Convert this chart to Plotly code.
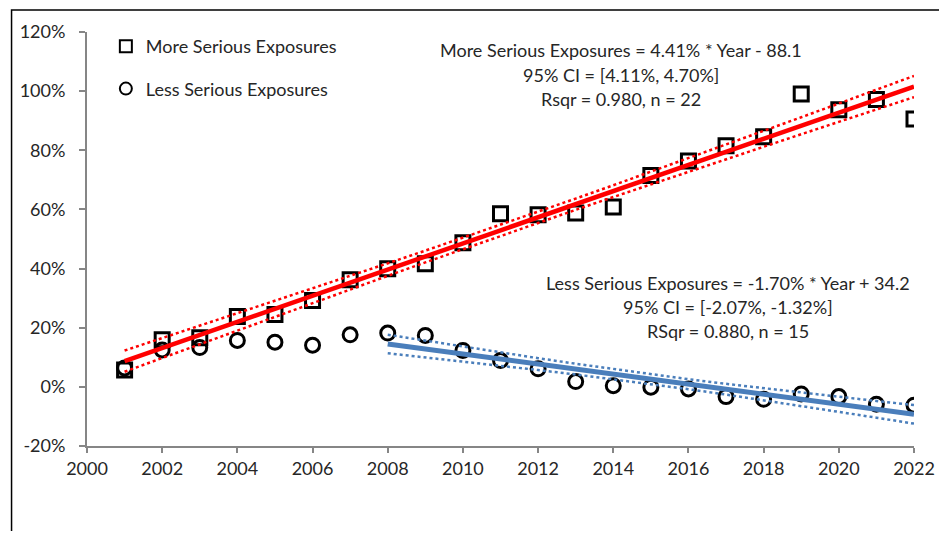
import numpy as np
import plotly.graph_objects as go

years = list(range(2001, 2023))
more_serious = [5.7, 15.9, 16.6, 23.8, 24.5, 29.2, 36.2, 39.9, 41.6, 48.7, 58.5,
                58.2, 58.8, 60.8, 71.5, 76.4, 81.5, 84.6, 99.0, 93.7, 97.2, 90.6]
less_serious = [6.4, 12.5, 13.3, 15.7, 15.1, 14.1, 17.6, 18.2, 17.4, 12.3, 8.9,
                6.1, 1.8, 0.4, -0.1, -0.7, -3.3, -4.2, -2.4, -3.3, -5.9, -6.2]
less_fit_start = 2008
t_more = 2.086   # t(0.975, df=20)
t_less = 2.160   # t(0.975, df=13)

y_tick_vals = [-0.2, 0.0, 0.2, 0.4, 0.6, 0.8, 1.0, 1.2]
y_tick_text = ["-20%", "0%", "20%", "40%", "60%", "80%", "100%", "120%"]

more_text = ["More Serious Exposures = 4.41% * Year - 88.1",
             "95% CI = [4.11%, 4.70%]",
             "Rsqr = 0.980, n = 22"]
less_text = ["Less Serious Exposures = -1.70% * Year + 34.2",
             "95% CI = [-2.07%, -1.32%]",
             "RSqr = 0.880, n = 15"]


def fit_band(x, y, t):
    x = np.asarray(x, float)
    y = np.asarray(y, float) / 100.0
    b, a = np.polyfit(x, y, 1)
    yhat = a + b * x
    n = len(x)
    s = np.sqrt(np.sum((y - yhat) ** 2) / (n - 2))
    sxx = np.sum((x - x.mean()) ** 2)
    hw = t * s * np.sqrt(1.0 / n + (x - x.mean()) ** 2 / sxx)
    return x, yhat, yhat - hw, yhat + hw


mx, my, mlo, mhi = fit_band(years, more_serious, t_more)
idx = [i for i, yv in enumerate(years) if yv >= less_fit_start]
lx, ly, llo, lhi = fit_band([years[i] for i in idx], [less_serious[i] for i in idx], t_less)

RED = "#FF0000"
BLUE = "#4A7EBB"
FONT = "Lato"
TXT = "#262626"

fig = go.Figure()
fig.add_trace(go.Scatter(x=years, y=[v / 100 for v in more_serious], mode="markers",
                         name="More Serious Exposures",
                         marker=dict(symbol="square-open", size=14, color="black",
                                     line=dict(width=3, color="black")),
                         legendgroup="a"))
fig.add_trace(go.Scatter(x=years, y=[v / 100 for v in less_serious], mode="markers",
                         name="Less Serious Exposures",
                         marker=dict(symbol="circle-open", size=14, color="black",
                                     line=dict(width=3, color="black")),
                         legendgroup="b"))
for yy, w, d in [(my, 4.5, "solid"), (mlo, 2.5, "dot"), (mhi, 2.5, "dot")]:
    fig.add_trace(go.Scatter(x=mx, y=yy, mode="lines", showlegend=False,
                             line=dict(color=RED, width=w, dash=d)))
for yy, w, d in [(ly, 5, "solid"), (llo, 2.5, "dot"), (lhi, 2.5, "dot")]:
    fig.add_trace(go.Scatter(x=lx, y=yy, mode="lines", showlegend=False,
                             line=dict(color=BLUE, width=w, dash=d)))

# page body has an 8px margin; figure is sized to fit the 947x539 window
OFF = 8
W, H = 947 - OFF, 539 - 2 * OFF
L, R, T, B = 85 - OFF, 918 - OFF, 32 - OFF, 446 - OFF


def px(xs):  # screen x -> paper
    return (xs - OFF - L) / (R - L)


def py(ys):  # screen y -> paper
    return (B - (ys - OFF)) / (B - T)


ann = []
for txt, ypix in zip(more_text, [50, 75, 99]):
    ann.append(dict(text=txt, x=px(623), y=py(ypix), xref="paper", yref="paper",
                    xanchor="center", yanchor="middle", showarrow=False,
                    font=dict(family=FONT, size=18, color=TXT)))
for txt, ypix in zip(less_text, [283, 307, 331]):
    ann.append(dict(text=txt, x=px(731), y=py(ypix), xref="paper", yref="paper",
                    xanchor="center", yanchor="middle", showarrow=False,
                    font=dict(family=FONT, size=18, color=TXT)))

fig.update_layout(
    width=W, height=H,
    margin=dict(l=L, r=W - R, t=T, b=H - B),
    plot_bgcolor="white", paper_bgcolor="white",
    font=dict(family=FONT, size=18, color=TXT),
    annotations=ann,
    showlegend=True,
    legend=dict(x=px(104), y=py(28), xanchor="left", yanchor="top",
                bgcolor="rgba(0,0,0,0)", font=dict(family=FONT, size=18, color=TXT),
                tracegroupgap=16, itemsizing="constant", itemwidth=30),
    shapes=[dict(type="rect", xref="paper", yref="paper",
                 x0=px(9), x1=px(990), y0=py(600), y1=py(10),
                 line=dict(color="black", width=1.5), fillcolor="rgba(0,0,0,0)",
                 layer="below")],
    xaxis=dict(range=[2000, 2022], dtick=2, tick0=2000, showgrid=False, zeroline=False,
               showline=True, linecolor="#868686", linewidth=2,
               ticks="outside", ticklen=5, tickcolor="#868686", tickwidth=1.5,
               tickfont=dict(family=FONT, size=18, color=TXT)),
    yaxis=dict(range=[-0.2, 1.2], tickmode="array", tickvals=y_tick_vals,
               ticktext=y_tick_text, showgrid=False,
               zeroline=False, showline=True, linecolor="#868686", linewidth=2,
               ticks="outside", ticklen=6, tickcolor="#868686", tickwidth=1.5,
               ticklabelstandoff=10,
               tickfont=dict(family=FONT, size=18, color=TXT)),
)

fig.write_html("out.html")
